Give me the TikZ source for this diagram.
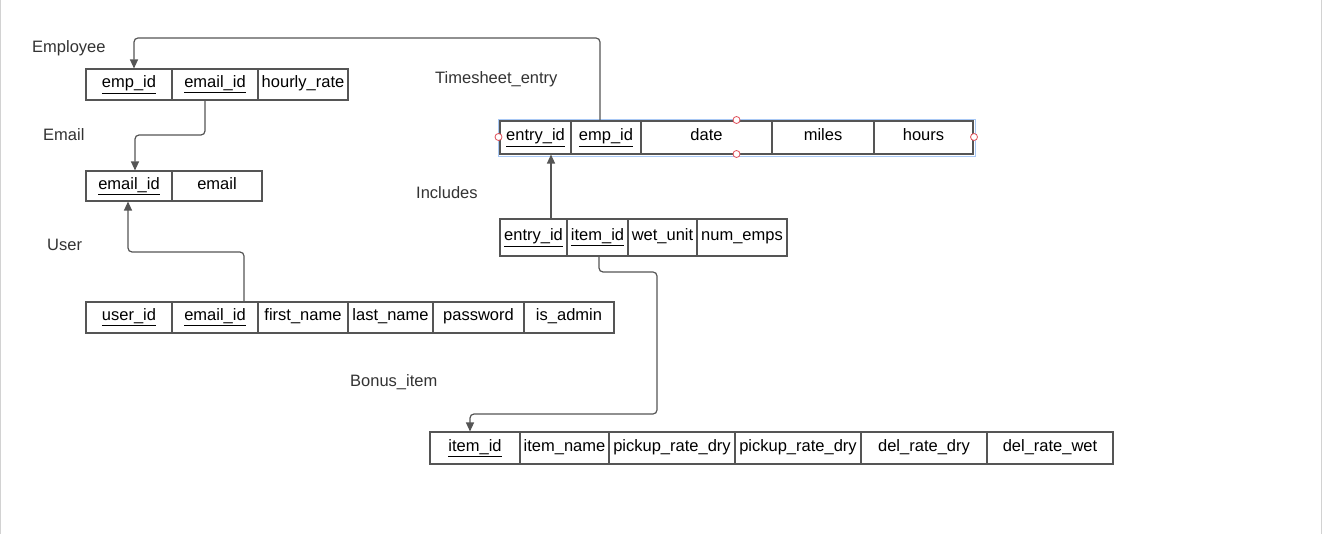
\documentclass[tikz,border=0pt]{standalone}
\usepackage{fontspec}
\setmainfont{Liberation Sans}
\usetikzlibrary{arrows.meta}
\definecolor{edge}{HTML}{555555}
\definecolor{lbl}{HTML}{333333}
\definecolor{selblue}{HTML}{A8C8F5}
\definecolor{handle}{HTML}{E0505A}
\begin{document}
\begin{tikzpicture}[x=1pt,y=-1pt,
  cell/.style={draw=edge, line width=1.1pt, inner sep=0pt, minimum height=#1,
    text height=11.5pt, text depth=4.5pt,
    font=\fontsize{16.5}{20}\selectfont, text=black},
  cell/.default=31,
  outer/.style={draw=edge, line width=1.8pt},
  lab/.style={anchor=base west, inner sep=0pt, font=\fontsize{16.5}{20}\selectfont, text=lbl},
  conn/.style={draw=edge, line width=1.2pt, rounded corners=4pt},
  arr/.style={conn, -{Triangle[length=9pt,width=8pt]}},
  hdl/.style={circle, draw=handle, fill=white, line width=0.8pt, minimum size=7pt, inner sep=0pt}
]
\useasboundingbox (0,0) rectangle (1322,534);
\fill[white] (0,0) rectangle (1322,534);
\draw[gray!35, line width=1pt] (0.5,0) -- (0.5,534);
\draw[gray!35, line width=1pt] (1321.5,0) -- (1321.5,534);

% labels
\node[lab] (lEmp) at (32,53) {Employee};
\node[lab] (lEmail) at (43,141) {Email};
\node[lab] (lUser) at (47,251) {User};
\node[lab] (lTs) at (435,84) {Timesheet\_entry};
\node[lab] (lInc) at (416,199) {Includes};
\node[lab] (lBon) at (350,386) {Bonus\_item};

% Employee
\node[cell, minimum width=86] (e1) at (129,84.5) {\underline{emp\_id}};
\node[cell, minimum width=86] (e2) at (215,84.5) {\underline{email\_id}};
\node[cell, minimum width=90] (e3) at (303,84.5) {hourly\_rate};
\draw[outer] (e1.north west) rectangle (e3.south east);

% Email
\node[cell=30, minimum width=86] (m1) at (129,186) {\underline{email\_id}};
\node[cell=30, minimum width=90] (m2) at (217,186) {email};
\draw[outer] (m1.north west) rectangle (m2.south east);

% User
\node[cell, minimum width=86] (u1) at (129,317.5) {\underline{user\_id}};
\node[cell, minimum width=86] (u2) at (215,317.5) {\underline{email\_id}};
\node[cell, minimum width=90] (u3) at (303,317.5) {first\_name};
\node[cell, minimum width=85] (u4) at (390.5,317.5) {last\_name};
\node[cell, minimum width=91] (u5) at (478.5,317.5) {password};
\node[cell, minimum width=90] (u6) at (569,317.5) {is\_admin};
\draw[outer] (u1.north west) rectangle (u6.south east);

% Timesheet_entry selection frame
\draw[selblue, line width=0.8pt] (498,119) rectangle (975,156);
% Timesheet_entry
\node[cell=33, minimum width=71] (t1) at (535.5,137.5) {\underline{entry\_id}};
\node[cell=33, minimum width=70] (t2) at (606,137.5) {\underline{emp\_id}};
\node[cell=33, minimum width=131] (t3) at (706.5,137.5) {date};
\node[cell=33, minimum width=102] (t4) at (823,137.5) {miles};
\node[cell=33, minimum width=99] (t5) at (923.5,137.5) {hours};
\draw[outer] (t1.north west) rectangle (t5.south east);
\node[hdl] (h1) at (736.5,120) {};
\node[hdl] (h2) at (736.5,154) {};
\node[hdl] (h3) at (498.5,137) {};
\node[hdl] (h4) at (974,137) {};

% Includes
\node[cell=37, minimum width=67] (i1) at (533.5,237.5) {\underline{entry\_id}};
\node[cell=37, minimum width=61] (i2) at (597.5,237.5) {\underline{item\_id}};
\node[cell=37, minimum width=69] (i3) at (662.5,237.5) {wet\_unit};
\node[cell=37, minimum width=90] (i4) at (742,237.5) {num\_emps};
\draw[outer] (i1.north west) rectangle (i4.south east);

% Bonus_item
\node[cell=32, minimum width=90] (b1) at (475,448) {\underline{item\_id}};
\node[cell=32, minimum width=89] (b2) at (564.5,448) {item\_name};
\node[cell=32, minimum width=126] (b3) at (672,448) {pickup\_rate\_dry};
\node[cell=32, minimum width=126] (b4) at (798,448) {pickup\_rate\_dry};
\node[cell=32, minimum width=126] (b5) at (924,448) {del\_rate\_dry};
\node[cell=32, minimum width=126] (b6) at (1050,448) {del\_rate\_wet};
\draw[outer] (b1.north west) rectangle (b6.south east);

% connectors
\draw[arr] (t2.north -| 600,0) -- (600,38) -- (134,38) -- (e1.north -| 134,0);
\draw[arr] (e2.south -| 205,0) -- (205,135) -- (135,135) -- (m1.north -| 135,0);
\draw[arr] (u2.north -| 244,0) -- (244,252) -- (128,252) -- (m1.south -| 128,0);
\draw[arr] (i1.north -| 551,0) -- (t1.south -| 551,0);
\draw[arr] (i2.south -| 599,0) -- (599,272) -- (657,272) -- (657,414) -- (470,414) -- (b1.north -| 470,0);
\end{tikzpicture}
\end{document}
